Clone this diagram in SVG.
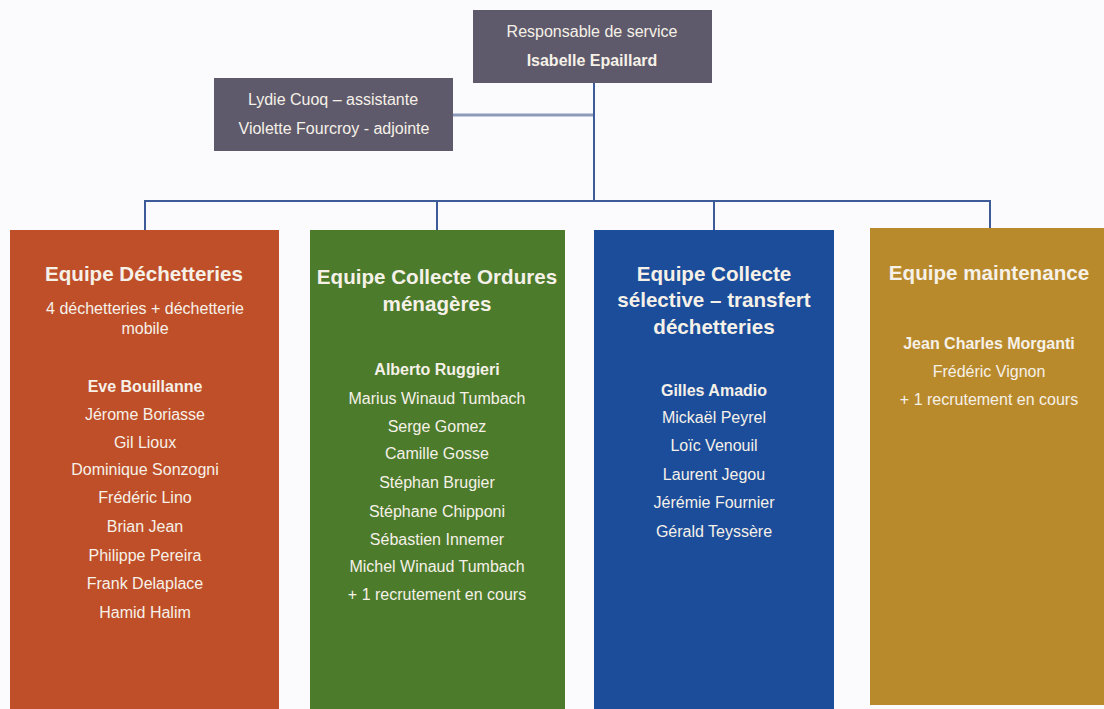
<svg xmlns="http://www.w3.org/2000/svg" width="1104" height="709" viewBox="0 0 1104 709">
<style>
.t{font-family:"Liberation Sans",Arial,sans-serif;fill:#f6f1e8;text-anchor:middle}
.s{font-size:16px}
.b{font-weight:bold}
.h{font-size:20.6px;font-weight:bold}
.top{font-size:16px}
.ln{fill:none;stroke:#3d5b98;stroke-width:2}
.lt{fill:none;stroke:#8d9bbb;stroke-width:3}
</style>
<rect width="1104" height="709" fill="#fbfbfd"/>
<g id="connectors">
<line class="lt" x1="453" y1="115" x2="594" y2="115"/>
<line class="ln" x1="594" y1="83" x2="594" y2="201" stroke-width="3"/>
<polyline class="ln" points="145,230 145,201 990,201 990,228"/>
<line class="ln" x1="437" y1="201" x2="437" y2="230"/>
<line class="ln" x1="714" y1="201" x2="714" y2="230"/>
</g>
<g id="responsable">
<rect x="473" y="10" width="239" height="73" fill="#5e5a6b"/>
<text class="t top" x="592" y="37">Responsable de service</text>
<text class="t top b" x="592" y="66">Isabelle Epaillard</text>
</g>
<g id="assistantes">
<rect x="214" y="78" width="239" height="73" fill="#5e5a6b"/>
<text class="t top" x="333" y="105">Lydie Cuoq – assistante</text>
<text class="t top" x="334" y="134">Violette Fourcroy - adjointe</text>
</g>
<g id="equipe-decheteries">
<rect x="10" y="230" width="269" height="479" fill="#bf4f28"/>
<text class="t h" x="144" y="281">Equipe Déchetteries</text>
<text class="t s" x="145" y="314">4 déchetteries + déchetterie</text>
<text class="t s" x="145" y="334">mobile</text>
<text class="t s b" x="145" y="392">Eve Bouillanne</text>
<text class="t s" x="145" y="420">Jérome Boriasse</text>
<text class="t s" x="145" y="448">Gil Lioux</text>
<text class="t s" x="145" y="475">Dominique Sonzogni</text>
<text class="t s" x="145" y="503">Frédéric Lino</text>
<text class="t s" x="145" y="532">Brian Jean</text>
<text class="t s" x="145" y="561">Philippe Pereira</text>
<text class="t s" x="145" y="589">Frank Delaplace</text>
<text class="t s" x="145" y="618">Hamid Halim</text>
</g>
<g id="equipe-ordures">
<rect x="310" y="230" width="255" height="479" fill="#4b7b2b"/>
<text class="t h" x="437" y="284">Equipe Collecte Ordures</text>
<text class="t h" x="437" y="311">ménagères</text>
<text class="t s b" x="437" y="375">Alberto Ruggieri</text>
<text class="t s" x="437" y="404">Marius Winaud Tumbach</text>
<text class="t s" x="437" y="432">Serge Gomez</text>
<text class="t s" x="437" y="459">Camille Gosse</text>
<text class="t s" x="437" y="488">Stéphan Brugier</text>
<text class="t s" x="437" y="517">Stéphane Chipponi</text>
<text class="t s" x="437" y="545">Sébastien Innemer</text>
<text class="t s" x="437" y="572">Michel Winaud Tumbach</text>
<text class="t s" x="437" y="600">+ 1 recrutement en cours</text>
</g>
<g id="equipe-selective">
<rect x="594" y="230" width="240" height="479" fill="#1b4d9b"/>
<text class="t h" x="714" y="281">Equipe Collecte</text>
<text class="t h" x="714" y="307">sélective – transfert</text>
<text class="t h" x="714" y="334">déchetteries</text>
<text class="t s b" x="714" y="396">Gilles Amadio</text>
<text class="t s" x="714" y="423">Mickaël Peyrel</text>
<text class="t s" x="714" y="451">Loïc Venouil</text>
<text class="t s" x="714" y="480">Laurent Jegou</text>
<text class="t s" x="714" y="508">Jérémie Fournier</text>
<text class="t s" x="714" y="537">Gérald Teyssère</text>
</g>
<g id="equipe-maintenance">
<rect x="870" y="228" width="234" height="477" fill="#b98a2c"/>
<text class="t h" x="989" y="280">Equipe maintenance</text>
<text class="t s b" x="989" y="349">Jean Charles Morganti</text>
<text class="t s" x="989" y="377">Frédéric Vignon</text>
<text class="t s" x="989" y="405">+ 1 recrutement en cours</text>
</g>
</svg>
